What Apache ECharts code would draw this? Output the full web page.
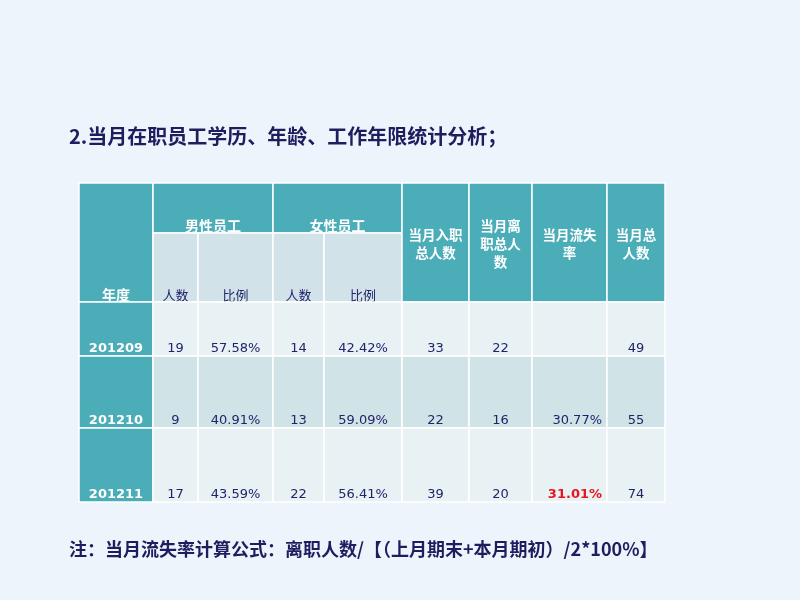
<!DOCTYPE html>
<html><head><meta charset="utf-8">
<script src="https://cdn.jsdelivr.net/npm/echarts@6/dist/echarts.min.js"></script>
<style>html,body{margin:0;padding:0;background:#EEF4FB;} #main{width:800px;height:600px;}</style>
</head><body><div id="main"></div>
<script>
// ---- data ----
const years = ['201209', '201210', '201211'];
const maleCount = [19, 9, 17];
const maleRatio = ['57.58%', '40.91%', '43.59%'];
const femaleCount = [14, 13, 22];
const femaleRatio = ['42.42%', '59.09%', '56.41%'];
const hires = [33, 22, 39];
const leaves = [22, 16, 20];
const turnover = ['', '30.77%', '31.01%'];
const totals = [49, 55, 74];
const yearHeader = '年度';
const groupHeaders = ['男性员工', '女性员工'];
const subHeaders = ['人数', '比例'];
const sideHeaders = ['当月入职\n总人数', '当月离\n职总人\n数', '当月流失\n率', '当月总\n人数'];
const titleText = '2.当月在职员工学历、年龄、工作年限统计分析；';
const noteText = '注：当月流失率计算公式：离职人数/【（上月期末+本月期初）/2*100%】';
const highlightRow = 2;

// ---- layout (table units) ----
const colEdges = [0, 74, 119, 194, 245, 323, 390, 453, 528, 586];
const rowEdges = [0, 50, 119, 173, 245, 319];

const cells = [];
cells.push({ c: [0, 1], r: [0, 2], text: yearHeader, kind: 'head' });
groupHeaders.forEach((g, i) => cells.push({ c: [1 + 2 * i, 3 + 2 * i], r: [0, 1], text: g, kind: 'head' }));
groupHeaders.forEach((g, i) => subHeaders.forEach((s, j) =>
  cells.push({ c: [1 + 2 * i + j, 2 + 2 * i + j], r: [1, 2], text: s, kind: 'sub' })));
sideHeaders.forEach((s, i) => cells.push({ c: [5 + i, 6 + i], r: [0, 2], text: s, kind: 'headMid' }));
years.forEach((y, i) => {
  const r = [2 + i, 3 + i];
  const vals = [maleCount[i], maleRatio[i], femaleCount[i], femaleRatio[i], hires[i], leaves[i], turnover[i], totals[i]];
  cells.push({ c: [0, 1], r, text: y, kind: 'year' });
  vals.forEach((v, j) => {
    let kind = 'num';
    if (j === 6) kind = (i === highlightRow) ? 'hl' : 'rate';
    cells.push({ c: [1 + j, 2 + j], r, text: String(v), kind, row: i });
  });
});

const TEAL = '#4AADB8';
const NAVY = '#23236B';
const rowBg = ['#E8F1F3', '#D0E3E7', '#E8F1F3'];

function renderItem(params, api) {
  const cell = cells[params.dataIndex];
  const p0 = api.coord([api.value(0), api.value(2)]);
  const p1 = api.coord([api.value(1), api.value(3)]);
  const x = Math.min(p0[0], p1[0]), y = Math.min(p0[1], p1[1]);
  const w = Math.abs(p1[0] - p0[0]), h = Math.abs(p1[1] - p0[1]);
  let fill, tStyle;
  const cjk = '"Noto Sans CJK SC", sans-serif';
  const num = '"DejaVu Sans", Verdana, sans-serif';
  switch (cell.kind) {
    case 'head':
      fill = TEAL;
      tStyle = { x: x + w / 2, y: y + h, align: 'center', verticalAlign: 'bottom', fill: '#FFFFFF', fontSize: 14, fontWeight: 'bold', fontFamily: cjk };
      break;
    case 'headMid':
      fill = TEAL;
      tStyle = { x: x + w / 2, y: y + h / 2 + 1, align: 'center', verticalAlign: 'middle', fill: '#FFFFFF', fontSize: 13.5, fontWeight: 'bold', fontFamily: cjk, lineHeight: 18 };
      break;
    case 'sub':
      fill = '#D1E3E8';
      tStyle = { x: x + w / 2, y: y + h, align: 'center', verticalAlign: 'bottom', fill: NAVY, fontSize: 13, fontFamily: cjk };
      break;
    case 'year':
      fill = TEAL;
      tStyle = { x: x + w / 2, y: y + h - 1, align: 'center', verticalAlign: 'bottom', fill: '#FFFFFF', fontSize: 13, fontWeight: 'bold', fontFamily: num };
      break;
    case 'rate':
      fill = rowBg[cell.row];
      tStyle = { x: x + w - 5, y: y + h - 1, align: 'right', verticalAlign: 'bottom', fill: NAVY, fontSize: 13, fontFamily: num };
      break;
    case 'hl':
      fill = rowBg[cell.row];
      tStyle = { x: x + w - 5, y: y + h - 1, align: 'right', verticalAlign: 'bottom', fill: '#E8141E', fontSize: 13, fontWeight: 'bold', fontFamily: num };
      break;
    default:
      fill = rowBg[cell.row];
      tStyle = { x: x + w / 2, y: y + h - 1, align: 'center', verticalAlign: 'bottom', fill: NAVY, fontSize: 13, fontFamily: num };
  }
  tStyle.text = cell.text;
  return {
    type: 'group',
    children: [
      { type: 'rect', shape: { x, y, width: w, height: h }, style: { fill, stroke: '#FFFFFF', lineWidth: 1.5 } },
      { type: 'text', style: tStyle }
    ]
  };
}

const chart = echarts.init(document.getElementById('main'));
chart.setOption({
  backgroundColor: '#EEF4FB',
  animation: false,
  title: [
    { text: titleText, left: 64, top: 121, textStyle: { fontSize: 20, fontWeight: 'bold', color: '#1E1E5E', fontFamily: '"Noto Sans CJK SC", sans-serif' } },
    { text: noteText, left: 64, top: 535, textStyle: { fontSize: 18, fontWeight: 'bold', color: '#1E1E5E', fontFamily: '"Noto Sans CJK SC", sans-serif' } }
  ],
  grid: { left: 79, top: 183, width: 586, height: 319 },
  xAxis: { type: 'value', min: 0, max: 586, show: false },
  yAxis: { type: 'value', min: 0, max: 319, inverse: true, show: false },
  series: [{
    type: 'custom',
    renderItem,
    encode: { x: [0, 1], y: [2, 3] },
    data: cells.map(c => [colEdges[c.c[0]], colEdges[c.c[1]], rowEdges[c.r[0]], rowEdges[c.r[1]]])
  }]
});
</script>
</body></html>
